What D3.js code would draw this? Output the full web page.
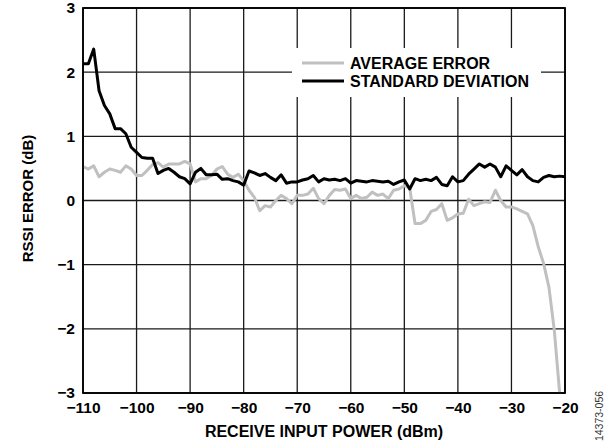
<!DOCTYPE html>
<html><head><meta charset="utf-8">
<script src="https://cdn.jsdelivr.net/npm/d3@7"></script>
<style>
html,body{margin:0;padding:0;background:#fff;}
svg text{font-family:"Liberation Sans",Arial,sans-serif;font-weight:bold;fill:#000;}
</style></head>
<body>
<script>
const powerDbm = d3.range(-110, -19, 1);
const stdDev = [2.13,2.13,2.36,1.71,1.48,1.35,1.12,1.12,1.04,0.83,
0.75,0.67,0.66,0.66,0.42,0.47,0.5,0.44,0.37,0.34,
0.26,0.44,0.5,0.4,0.4,0.41,0.33,0.34,0.31,0.29,
0.24,0.46,0.43,0.39,0.42,0.36,0.31,0.4,0.27,0.29,
0.29,0.32,0.34,0.39,0.29,0.34,0.32,0.33,0.31,0.34,
0.27,0.31,0.3,0.29,0.31,0.3,0.29,0.3,0.25,0.29,
0.32,0.18,0.34,0.31,0.33,0.31,0.36,0.25,0.23,0.37,
0.29,0.31,0.41,0.49,0.57,0.52,0.57,0.52,0.37,0.54,
0.47,0.4,0.48,0.37,0.31,0.29,0.36,0.39,0.37,0.38,0.37];
const avgPower = d3.range(-110, -20, 1);
const avgError = [0.53,0.49,0.54,0.37,0.44,0.49,0.47,0.44,0.54,0.49,
0.39,0.39,0.47,0.56,0.59,0.52,0.57,0.57,0.57,0.61,
0.57,0.29,0.34,0.34,0.39,0.49,0.53,0.41,0.36,0.41,
0.31,0.16,0.05,-0.16,-0.08,-0.1,0,0.08,0.03,-0.05,
0.08,0.08,0.1,0.19,0.03,-0.05,0.08,0.17,0.16,0.18,
0.03,0.08,0.03,0.05,0.13,0.08,0.1,0.03,0.16,0.18,
0.23,0.2,-0.36,-0.36,-0.31,-0.17,-0.14,-0.05,-0.31,-0.27,
-0.21,-0.2,0.02,-0.08,-0.05,-0.02,-0.03,0.16,0,-0.1,
-0.1,-0.13,-0.17,-0.21,-0.39,-0.72,-0.98,-1.35,-2.02,-3.0];
const xTicks = d3.range(-110, -19, 10);
const yTicks = [-3,-2,-1,0,1,2,3];
const seriesNames = ["AVERAGE ERROR","STANDARD DEVIATION"];
const xTitle = "RECEIVE INPUT POWER (dBm)";
const yTitle = "RSSI ERROR (dB)";
const figId = "14373-056";

const W=616,H=448;
const m={l:83,r:51,t:8,b:55};
const svg=d3.select("body").append("svg").attr("width",W).attr("height",H);
const x=d3.scaleLinear().domain([-110,-20]).range([m.l,W-m.r]);
const y=d3.scaleLinear().domain([-3,3]).range([H-m.b,m.t]);
const fmt=d3.format("");

// grid
svg.append("g").selectAll("line").data(xTicks).join("line")
 .attr("x1",d=>x(d)).attr("x2",d=>x(d)).attr("y1",y(-3)).attr("y2",y(3))
 .attr("stroke","#1a1a1a").attr("stroke-width",1.3);
svg.append("g").selectAll("line").data(yTicks).join("line")
 .attr("y1",d=>y(d)).attr("y2",d=>y(d)).attr("x1",x(-110)).attr("x2",x(-20))
 .attr("stroke","#1a1a1a").attr("stroke-width",1.3);

// legend box
svg.append("rect").attr("x",292).attr("y",48).attr("width",249).attr("height",49).attr("fill","#fff");

const line=d3.line().x(d=>x(d[0])).y(d=>y(d[1]));
svg.append("path").datum(d3.zip(avgPower,avgError)).attr("d",line)
 .attr("fill","none").attr("stroke","#c0c0c0").attr("stroke-width",3).attr("stroke-linejoin","round");
svg.append("path").datum(d3.zip(powerDbm,stdDev)).attr("d",line)
 .attr("fill","none").attr("stroke","#000").attr("stroke-width",3).attr("stroke-linejoin","round");

// frame
svg.append("rect").attr("x",x(-110)).attr("y",y(3)).attr("width",x(-20)-x(-110)).attr("height",y(-3)-y(3))
 .attr("fill","none").attr("stroke","#000").attr("stroke-width",1.8);

// axes labels
const xa=svg.append("g").attr("transform",`translate(0,${y(-3)})`)
 .call(d3.axisBottom(x).tickValues(xTicks).tickSize(0).tickPadding(9).tickFormat(fmt));
xa.select(".domain").remove();
xa.selectAll("text").style("font-size","15.5px");
const ya=svg.append("g").attr("transform",`translate(${x(-110)},0)`)
 .call(d3.axisLeft(y).tickValues(yTicks).tickSize(0).tickPadding(8).tickFormat(fmt));
ya.select(".domain").remove();
ya.selectAll("text").style("font-size","15.5px");

// legend
const lg=[{c:"#c0c0c0",yy:63},{c:"#000",yy:81}];
lg.forEach((o,i)=>{
 svg.append("line").attr("x1",302).attr("x2",344).attr("y1",o.yy).attr("y2",o.yy)
  .attr("stroke",o.c).attr("stroke-width",3);
 svg.append("text").attr("x",350).attr("y",o.yy+5.5).style("font-size","16px").text(seriesNames[i]);
});

svg.append("text").attr("x",(x(-110)+x(-20))/2).attr("y",437).attr("text-anchor","middle")
 .style("font-size","16px").text(xTitle);
svg.append("text").attr("transform",`translate(33,${y(0)-2}) rotate(-90)`).attr("text-anchor","middle")
 .style("font-size","15px").text(yTitle);
svg.append("text").attr("transform",`translate(603,416) rotate(-90)`).attr("text-anchor","middle")
 .style("font-size","10.5px").style("font-weight","normal").style("fill","#333").text(figId);
</script>
</body></html>
